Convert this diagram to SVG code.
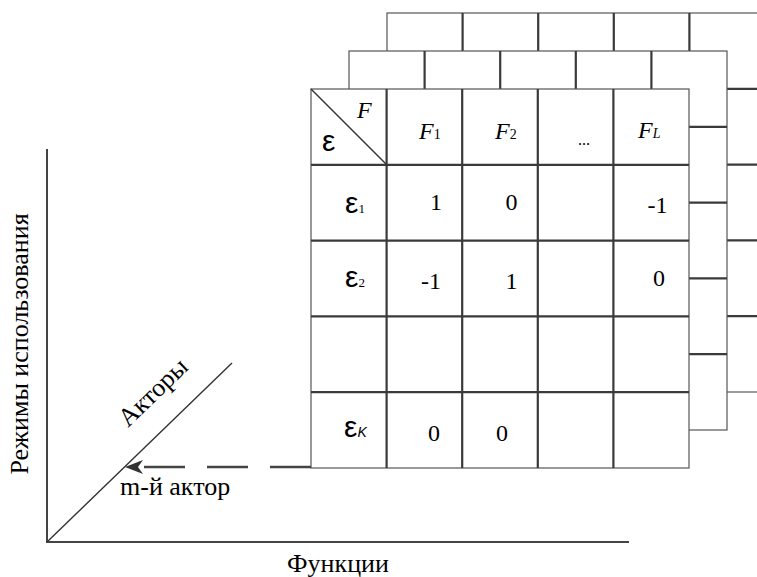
<svg xmlns="http://www.w3.org/2000/svg" xmlns:xlink="http://www.w3.org/1999/xlink" width="757" height="577" viewBox="0 0 757 577">
<style>
.outer{fill:#fff;stroke:#555;stroke-width:1.2}
.inner{stroke:#3a3a3a;stroke-width:2.2;fill:none}
.axis{stroke:#444;stroke-width:2;fill:none}
.thin{stroke:#333;stroke-width:1.4;fill:none}
.dash{stroke:#444;stroke-width:2.4;fill:none;stroke-dasharray:41 22}
text{fill:#000}
.lbl{font-size:26px}
.num{font-size:24px;text-anchor:middle}
.it{font-style:italic}
.eps{font-size:30px}
.sub{font-size:13px}
</style>
<defs>
<g id="grid">
<rect class="outer" x="0" y="0" width="378" height="379"/>
<path class="inner" d="M75.6 0V379M151.2 0V379M226.8 0V379M302.4 0V379M0 75.8H378M0 151.6H378M0 227.4H378M0 303.2H378"/>
</g>
<marker id="ah" markerWidth="20" markerHeight="14" refX="18" refY="7" orient="auto" markerUnits="userSpaceOnUse">
<path d="M0 0L18 7L0 14L5 7Z" fill="#333"/>
</marker>
</defs>

<g id="table-back"><use xlink:href="#grid" x="387" y="13"/></g>
<g id="table-middle"><use xlink:href="#grid" x="349" y="51"/></g>
<g id="table-front" font-family="'Liberation Serif', 'Times New Roman', 'DejaVu Serif', serif">
<use xlink:href="#grid" x="311" y="89"/>
<line class="thin" x1="311" y1="89" x2="387" y2="165"/>
<text class="it" x="357" y="118" font-size="24">F</text>
<text class="eps" x="322" y="151" font-family="'Liberation Sans', Arial, sans-serif">ε</text>
<text x="419" y="139" font-size="24"><tspan class="it">F</tspan><tspan font-size="14">1</tspan></text>
<text x="495" y="139" font-size="24"><tspan class="it">F</tspan><tspan font-size="14">2</tspan></text>
<text x="578" y="145" font-size="16">...</text>
<text x="638" y="138" font-size="24"><tspan class="it">F</tspan><tspan font-size="14" class="it">L</tspan></text>
<text class="eps" x="345" y="213"><tspan font-family="'Liberation Sans', Arial, sans-serif">ε</tspan><tspan class="sub">1</tspan></text>
<text class="eps" x="345" y="287"><tspan font-family="'Liberation Sans', Arial, sans-serif">ε</tspan><tspan class="sub">2</tspan></text>
<text class="eps" x="344" y="437" font-family="'Liberation Sans', Arial, sans-serif">ε<tspan font-size="14" font-style="italic">K</tspan></text>
<text class="num" x="436" y="210">1</text>
<text class="num" x="511.5" y="210">0</text>
<text class="num" x="657.5" y="213">-1</text>
<text class="num" x="431" y="289">-1</text>
<text class="num" x="511.5" y="289">1</text>
<text class="num" x="659" y="286">0</text>
<text class="num" x="434" y="441">0</text>
<text class="num" x="502" y="441">0</text>
</g>

<g id="axes" font-family="'Liberation Serif', 'Times New Roman', 'DejaVu Serif', serif">
<path class="axis" d="M47 149V542H629"/>
<line class="thin" x1="47" y1="542" x2="232" y2="363"/>
<text class="lbl" transform="translate(28 344) rotate(-90)" text-anchor="middle">Режимы использования</text>
<text class="lbl" x="338" y="572" text-anchor="middle">Функции</text>
<text class="lbl" transform="translate(128 428) rotate(-44)">Акторы</text>
<text class="lbl" x="120" y="495">m-й актор</text>
</g>

<g id="connectors">
<path class="dash" d="M311 467H125" marker-end="url(#ah)"/>
</g>
</svg>
